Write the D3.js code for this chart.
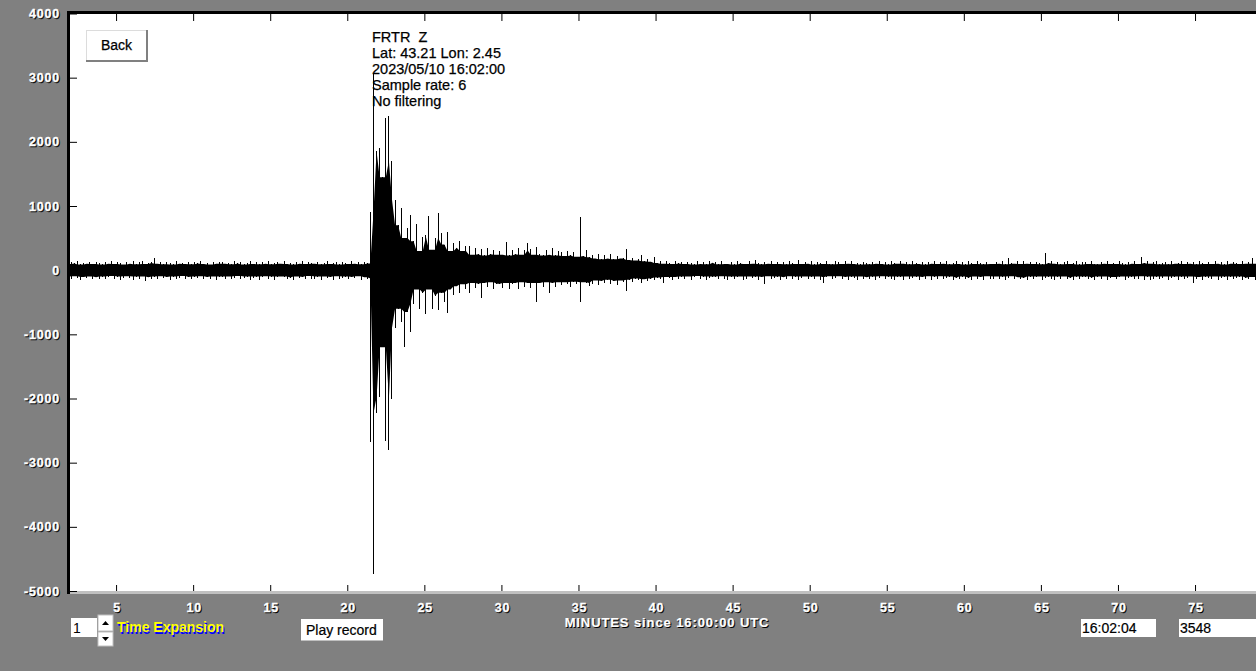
<!DOCTYPE html>
<html><head><meta charset="utf-8">
<script src="https://cdn.jsdelivr.net/npm/d3@7"></script>
<style>
html,body{margin:0;padding:0;background:#808080;overflow:hidden}
svg{display:block}
text{font-family:"Liberation Sans",Arial,sans-serif;white-space:pre}
</style></head><body>
<svg id="c" width="1256" height="671"></svg>
<script>
// ---- data ----
const startMinute = 1.9;      // first bin, minutes since 16:00:00
const binMinutes = 0.2;       // width of one envelope bin
// max count value in each bin
const traceHigh = [
  95,125,105,140,90,115,100,135,95,120,
  110,90,130,100,145,95,120,105,88,135,
  100,140,92,125,150,98,110,130,190,100,
  120,94,135,105,90,140,100,115,96,130,
  92,125,105,145,98,110,88,135,100,120,
  130,100,115,92,140,105,125,90,110,145,
  98,135,94,120,100,150,92,115,130,100,
  140,96,110,90,125,100,145,95,120,105,
  100,130,92,115,140,98,105,135,90,120,
  110,95,140,100,125,92,130,105,900,3080,
  1850,1900,1450,2370,2400,1700,1100,700,970,500,
  650,860,450,720,300,520,550,840,320,500,
  890,580,400,600,300,420,350,450,300,380,
  380,240,350,250,330,230,340,250,320,240,
  300,240,440,230,320,250,350,240,310,420,
  330,240,360,250,230,310,240,340,230,300,
  280,220,300,230,280,210,830,220,310,200,
  230,180,250,170,230,180,250,170,220,180,
  190,330,160,190,150,180,230,140,170,130,
  210,110,150,100,140,110,95,145,105,125,
  98,135,105,90,140,95,125,92,150,115,
  120,94,145,100,96,130,90,140,110,100,
  95,140,100,160,110,92,130,100,145,98,
  135,96,120,92,150,105,98,160,95,125,
  100,145,90,130,110,96,140,100,92,150,
  125,95,140,100,150,96,115,90,135,105,
  92,130,100,145,98,125,90,140,110,100,
  140,100,120,94,150,105,96,135,90,125,
  100,150,96,125,100,140,92,115,145,98,
  130,90,140,105,96,150,110,94,135,100,
  98,125,100,145,92,190,115,100,140,95,
  150,100,120,96,135,105,92,265,110,140,
  100,135,94,125,150,98,115,140,90,130,
  120,96,145,100,92,135,100,150,98,115,
  95,140,105,90,130,100,150,96,210,110,
  140,100,125,150,94,115,135,92,145,100,
  105,150,96,130,100,120,92,140,110,98,
  130,95,145,100,120,90,150,100,135,110,
  98,140,100,125,190,100,130
];
// min count value in each bin
const traceLow = [
  -100,-135,-95,-120,-150,-105,-125,-98,-140,-110,
  -130,-100,-145,-105,-92,-135,-100,-155,-115,-96,
  -120,-160,-100,-140,-98,-170,-110,-130,-100,-145,
  -95,-125,-105,-150,-100,-135,-115,-92,-140,-105,
  -140,-100,-120,-95,-145,-105,-130,-98,-150,-100,
  -105,-145,-98,-130,-115,-92,-140,-120,-100,-155,
  -125,-100,-150,-105,-95,-135,-100,-160,-110,-98,
  -100,-140,-115,-155,-98,-125,-105,-145,-92,-130,
  -135,-100,-150,-98,-120,-105,-160,-95,-130,-115,
  -100,-140,-105,-125,-95,-150,-110,-130,-2680,-4735,
  -2230,-1980,-1200,-2670,-2810,-2000,-900,-600,-800,-1200,
  -650,-970,-520,-300,-600,-350,-680,-300,-600,-400,
  -625,-350,-500,-670,-300,-380,-250,-360,-220,-300,
  -360,-200,-280,-210,-440,-200,-260,-190,-300,-210,
  -220,-280,-200,-300,-210,-200,-290,-190,-260,-200,
  -280,-200,-500,-200,-260,-190,-360,-200,-270,-190,
  -230,-190,-210,-260,-180,-220,-500,-190,-200,-250,
  -220,-160,-230,-170,-200,-150,-220,-170,-230,-160,
  -180,-330,-150,-180,-130,-160,-200,-140,-170,-130,
  -150,-115,-140,-200,-105,-125,-155,-105,-135,-100,
  -130,-98,-150,-110,-92,-145,-100,-160,-120,-100,
  -100,-145,-95,-130,-155,-100,-140,-110,-98,-150,
  -140,-98,-125,-100,-150,-105,-220,-96,-135,-115,
  -100,-150,-110,-140,-95,-130,-100,-155,-120,-98,
  -145,-100,-130,-98,-150,-200,-110,-95,-140,-120,
  -96,-140,-105,-155,-100,-125,-150,-98,-135,-110,
  -135,-100,-150,-115,-95,-145,-100,-130,-160,-100,
  -110,-150,-98,-135,-120,-100,-155,-105,-140,-96,
  -150,-100,-140,-95,-130,-115,-100,-155,-120,-145,
  -100,-145,-120,-160,-98,-130,-105,-150,-96,-135,
  -140,-98,-130,-100,-155,-120,-95,-145,-110,-135,
  -120,-150,-100,-140,-105,-98,-155,-125,-100,-145,
  -155,-100,-135,-98,-145,-120,-160,-100,-130,-110,
  -100,-140,-115,-155,-100,-130,-98,-150,-125,-105,
  -145,-110,-98,-150,-120,-100,-140,-130,-95,-155,
  -100,-155,-130,-100,-145,-115,-98,-150,-125,-100,
  -150,-100,-140,-120,-98,-200,-135,-105,-155,-100,
  -115,-145,-98,-150,-125,-100,-160,-100,-140,-120,
  -100,-150,-120,-140,-105,-155,-130
];
const xTickValues = [5,10,15,20,25,30,35,40,45,50,55,60,65,70,75];
const yTickValues = [4000,3000,2000,1000,0,-1000,-2000,-3000,-4000,-5000];
const infoLines = ["FRTR  Z","Lat: 43.21 Lon: 2.45","2023/05/10 16:02:00","Sample rate: 6","No filtering"];
const xAxisTitle = "MINUTES since 16:00:00 UTC";
const expansionValue = "1";
const expansionLabel = "Time Expansion";
const playLabel = "Play record";
const backLabel = "Back";
const cursorTime = "16:02:04";
const cursorValue = "3548";

// ---- drawing ----
const W = 1256, H = 671;
const svg = d3.select("#c");
const x = d3.scaleLinear().domain([0, 80]).range([39.0, 1272.1]);
const y = d3.scaleLinear().domain([-5000, 4000]).range([591, 13.5]);
const P = {l: 70, t: 14, r: 1256, b: 591};

svg.append("rect").attr("width", W).attr("height", H).attr("fill", "#808080");
svg.append("rect").attr("x", P.l).attr("y", P.t).attr("width", P.r - P.l).attr("height", P.b - P.t).attr("fill", "#fff");

// trace: the span that neighbouring bins share is filled solid,
// and each bin is a 1px stroke from its min to its max
svg.append("clipPath").attr("id", "clip").append("rect")
  .attr("x", P.l).attr("y", P.t).attr("width", P.r - P.l).attr("height", P.b - P.t);
const n = traceHigh.length;
const bins = traceHigh.map((h, i) => {
  const a = Math.max(0, i - 1), b = Math.min(n, i + 2);
  return {
    t: startMinute + i * binMinutes, hi: h, lo: traceLow[i],
    coreHi: d3.min(traceHigh.slice(a, b)), coreLo: d3.max(traceLow.slice(a, b))
  };
});
const trace = svg.append("g").attr("clip-path", "url(#clip)");
const area = d3.area().x(d => x(d.t)).y0(d => y(d.coreLo)).y1(d => y(d.coreHi));
trace.append("path").attr("d", area(bins)).attr("fill", "#000");
trace.selectAll("line.bin").data(bins).join("line").attr("class", "bin")
  .attr("x1", d => x(d.t)).attr("x2", d => x(d.t))
  .attr("y1", d => y(d.hi)).attr("y2", d => y(d.lo))
  .attr("stroke", "#000").attr("stroke-width", 1).attr("shape-rendering", "crispEdges");

// frame
svg.append("rect").attr("x", 67).attr("y", 11).attr("width", W - 67).attr("height", 3).attr("fill", "#000");
svg.append("rect").attr("x", 67).attr("y", 11).attr("width", 3).attr("height", 583).attr("fill", "#000");
svg.append("rect").attr("x", 70).attr("y", 591).attr("width", W - 70).attr("height", 3).attr("fill", "#c0c0c0");

// axes (tick marks)
const gb = svg.append("g").attr("transform", `translate(0,${P.b})`).style("color", "#000")
  .call(d3.axisBottom(x).tickValues(xTickValues).tickSize(-6).tickFormat(""));
gb.select(".domain").remove();
const gt = svg.append("g").attr("transform", `translate(0,${P.t})`).style("color", "#000")
  .call(d3.axisTop(x).tickValues(xTickValues).tickSize(-7).tickFormat(""));
gt.select(".domain").remove();
const gl = svg.append("g").attr("transform", `translate(${P.l},0)`).style("color", "#000")
  .call(d3.axisLeft(y).tickValues(yTickValues).tickSize(-7).tickFormat(""));
gl.select(".domain").remove();

function shadowText(g, o) {
  const mk = (fill, dx, dy) => g.append("text")
    .attr("x", o.x + dx).attr("y", o.y + dy)
    .attr("text-anchor", o.anchor || "start")
    .attr("font-size", o.size).attr("font-weight", o.weight || "bold")
    .attr("letter-spacing", o.ls || 0)
    .attr("fill", fill).attr("stroke", fill).attr("stroke-width", o.sw || 0)
    .text(o.text);
  mk(o.shadow, o.dx || 1, o.dy || 1);
  mk(o.fill, 0, 0);
}
const labels = svg.append("g");
yTickValues.forEach(v => shadowText(labels, {x: 60, y: y(v) + 4.5, text: String(v), anchor: "end",
  size: 12.5, ls: 0.8, sw: 0.35, fill: "#fff", shadow: "#000"}));
xTickValues.forEach(v => shadowText(labels, {x: x(v) + 1, y: 611.5, text: String(v), anchor: "middle",
  size: 12.5, ls: 0.8, sw: 0.35, fill: "#fff", shadow: "#000"}));
shadowText(labels, {x: 667, y: 627, text: xAxisTitle, anchor: "middle", size: 13, ls: 0.9, sw: 0.2,
  fill: "#fff", shadow: "#000"});

// station info
const info = svg.append("g");
infoLines.forEach((s, i) => info.append("text").attr("x", 372).attr("y", 42 + 16 * i)
  .attr("font-size", 14.5).attr("fill", "#000").attr("stroke", "#000").attr("stroke-width", 0.25).text(s));

// Back button
svg.append("rect").attr("x", 86).attr("y", 30).attr("width", 62).attr("height", 32).attr("fill", "#fff");
svg.append("rect").attr("x", 86).attr("y", 30).attr("width", 61).attr("height", 1).attr("fill", "#dcdcdc");
svg.append("rect").attr("x", 86).attr("y", 30).attr("width", 1).attr("height", 30).attr("fill", "#dcdcdc");
svg.append("rect").attr("x", 86).attr("y", 60).attr("width", 62).attr("height", 2).attr("fill", "#808080");
svg.append("rect").attr("x", 146).attr("y", 30).attr("width", 2).attr("height", 32).attr("fill", "#808080");
svg.append("text").attr("x", 116.5).attr("y", 50).attr("text-anchor", "middle")
  .attr("font-size", 14).attr("fill", "#000").attr("stroke", "#000").attr("stroke-width", 0.25).text(backLabel);

// bottom controls
svg.append("rect").attr("x", 71).attr("y", 618).attr("width", 26).attr("height", 19).attr("fill", "#fff");
svg.append("text").attr("x", 73).attr("y", 632.5).attr("font-size", 14).attr("fill", "#000").text(expansionValue);
[[98, 615, 16, -1], [98, 632, 14, 1]].forEach(([bx, by, bh, dir]) => {
  svg.append("rect").attr("x", bx).attr("y", by).attr("width", 15).attr("height", bh)
    .attr("fill", "#fff").attr("stroke", "#c0c0c0").attr("stroke-width", 1);
  const cx = bx + 7.5, cy = by + bh / 2;
  const pth = dir < 0
    ? `M${cx - 3.5},${cy + 2}L${cx + 3.5},${cy + 2}L${cx},${cy - 2}Z`
    : `M${cx - 3.5},${cy - 2}L${cx + 3.5},${cy - 2}L${cx},${cy + 2}Z`;
  svg.append("path").attr("d", pth).attr("fill", "#000");
});
shadowText(svg.append("g"), {x: 117, y: 631.5, text: expansionLabel, size: 14,
  fill: "#ffff00", shadow: "#0000ff", dx: 1, dy: 2});

svg.append("rect").attr("x", 301).attr("y", 619).attr("width", 82).attr("height", 22).attr("fill", "#fff");
svg.append("rect").attr("x", 301).attr("y", 640).attr("width", 82).attr("height", 1).attr("fill", "#c0c0c0");
svg.append("text").attr("x", 306).attr("y", 635).attr("font-size", 14).attr("fill", "#000")
  .attr("stroke", "#000").attr("stroke-width", 0.2).text(playLabel);

svg.append("rect").attr("x", 1081).attr("y", 619).attr("width", 75).attr("height", 18).attr("fill", "#fff");
svg.append("text").attr("x", 1082).attr("y", 632.5).attr("font-size", 14).attr("fill", "#000")
  .attr("stroke", "#000").attr("stroke-width", 0.2).text(cursorTime);
svg.append("rect").attr("x", 1179).attr("y", 619).attr("width", 77).attr("height", 18).attr("fill", "#fff");
svg.append("text").attr("x", 1180).attr("y", 632.5).attr("font-size", 14).attr("fill", "#000")
  .attr("stroke", "#000").attr("stroke-width", 0.2).text(cursorValue);
</script>
</body></html>
